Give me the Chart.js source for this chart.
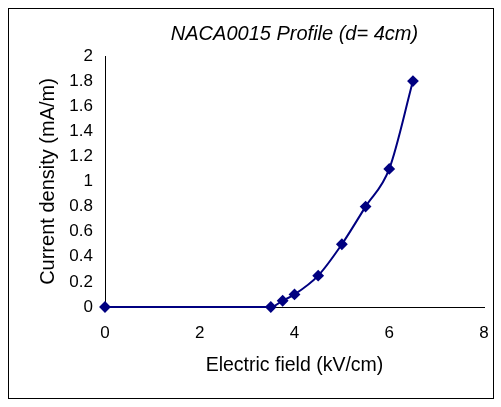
<!DOCTYPE html>
<html>
<head>
<meta charset="utf-8">
<script src="https://cdn.jsdelivr.net/npm/chart.js@4.4.0/dist/chart.umd.min.js"></script>
<style>
  body { margin: 0; background: #fff; }
  #wrap { position: relative; width: 501px; height: 407px; }
  #frame { position: absolute; left: 8px; top: 8px; width: 484px; height: 389px; border: 1px solid #000; pointer-events: none; }
</style>
</head>
<body>
<div id="wrap">
  <canvas id="chart" width="501" height="407"></canvas>
  <div id="frame"></div>
</div>
<script>
// values
const fieldKV = [0, 3.5, 3.75, 4, 4.5, 5, 5.5, 6, 6.5];
const currentDensity = [0, 0, 0.05, 0.1, 0.25, 0.5, 0.8, 1.1, 1.8];
const xTicks = [0, 2, 4, 6, 8];
const yTicks = [0, 0.2, 0.4, 0.6, 0.8, 1, 1.2, 1.4, 1.6, 1.8, 2];

const navy = '#000080';
const font = 'Liberation Sans, Arial, sans-serif';

const points = fieldKV.map((x, i) => ({ x: x, y: currentDensity[i] }));

const ctx = document.getElementById('chart').getContext('2d');
const chart = new Chart(ctx, {
    type: 'scatter',
    data: {
        datasets: [{
            data: points,
            showLine: true,
            clip: false,
            borderColor: navy,
            backgroundColor: navy,
            borderWidth: 2,
            pointStyle: 'rectRot',
            pointRadius: 4.5,
            pointHoverRadius: 4.5,
            cubicInterpolationMode: 'monotone'
        }]
    },
    options: {
        responsive: false,
        animation: false,
        layout: { padding: { top: 22, right: 17, bottom: 0, left: 0 } },
        plugins: {
            legend: { display: false },
            tooltip: { enabled: false },
            title: {
                display: true,
                fullSize: false,
                text: 'NACA0015 Profile (d= 4cm)',
                color: '#000',
                font: { family: font, size: 20, style: 'italic', weight: 'normal' },
                padding: { top: 0, bottom: 10 }
            }
        },
        scales: {
            x: {
                type: 'linear',
                min: 0, max: 8,
                afterBuildTicks: s => { s.ticks = xTicks.map(v => ({ value: v })); },
                afterFit: s => { s.height = 100; },
                grid: { display: false, drawOnChartArea: false, drawTicks: true, tickLength: 5, tickColor: '#000' },
                border: { display: true, color: '#000', width: 1 },
                ticks: { color: '#000', font: { family: font, size: 17 }, padding: 11, maxRotation: 0 },
                title: {
                    display: true, text: 'Electric field (kV/cm)', color: '#000',
                    font: { family: font, size: 19.5 }, padding: { top: 0, bottom: 30 }
                }
            },
            y: {
                type: 'linear',
                min: 0, max: 2,
                afterBuildTicks: s => { s.ticks = yTicks.map(v => ({ value: v })); },
                afterFit: s => { s.width = 105; },
                grid: { display: false, drawOnChartArea: false, drawTicks: true, tickLength: 6, tickColor: '#000' },
                border: { display: true, color: '#000', width: 1 },
                ticks: {
                    color: '#000', font: { family: font, size: 17 }, padding: 6,
                    callback: v => String(Math.round(v * 10) / 10)
                },
                title: {
                    display: true, text: 'Current density (mA/m)', color: '#000',
                    font: { family: font, size: 20 }, padding: { top: 36, bottom: 0 }
                }
            }
        }
    }
});
</script>
</body>
</html>
